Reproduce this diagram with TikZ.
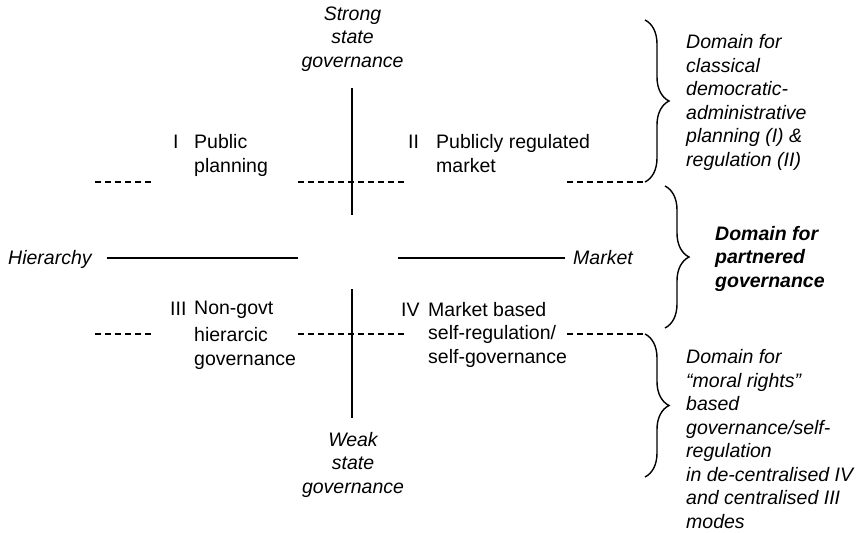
\documentclass[tikz,border=0pt]{standalone}
\usepackage{fontspec}
\setmainfont{Liberation Sans}
\usetikzlibrary{decorations.pathreplacing}
\begin{document}
\begin{tikzpicture}[x=1pt,y=1pt,
  lbl/.style={inner sep=0pt, text=black, font=\fontsize{19.5}{23.5}\selectfont},
  itl/.style={inner sep=0pt, text=black, font=\fontsize{19.5}{23.5}\selectfont\itshape},
  bitl/.style={inner sep=0pt, text=black, font=\fontsize{19.5}{23.5}\selectfont\bfseries\itshape},
  axisln/.style={line width=1.8pt, black},
  dashln/.style={line width=1.3pt, black, dash pattern=on 6pt off 4pt},
  bracecurl/.style={line width=1.4pt, black, decorate, decoration={brace, amplitude=24pt}}
]
\useasboundingbox (0,0) rectangle (863,-533);
% axes
\coordinate (hA) at (107,-258);
\coordinate (hB) at (298,-258);
\coordinate (hC) at (398,-258);
\coordinate (hD) at (565,-258);
\coordinate (vA) at (352,-88);
\coordinate (vB) at (352,-215);
\coordinate (vC) at (352,-289);
\coordinate (vD) at (352,-418);
\draw[axisln] (hA) -- (hB);
\draw[axisln] (hC) -- (hD);
\draw[axisln] (vA) -- (vB);
\draw[axisln] (vC) -- (vD);
% braces
\coordinate (b1s) at (645,-20);
\coordinate (b1e) at (645,-182);
\coordinate (b2s) at (665,-186);
\coordinate (b2e) at (665,-328);
\coordinate (b3s) at (645,-334);
\coordinate (b3e) at (645,-477);
\draw[bracecurl] (b1s) -- (b1e);
\draw[bracecurl] (b2s) -- (b2e);
\draw[bracecurl] (b3s) -- (b3e);
% dashed lines
\coordinate (u1) at (95,-182);
\coordinate (u2) at (153,-182);
\coordinate (u3) at (298,-182);
\coordinate (u4) at (405,-182);
\coordinate (u5) at (567,-182);
\coordinate (l1) at (95,-334);
\coordinate (l2) at (153,-334);
\coordinate (l3) at (298,-334);
\coordinate (l4) at (405,-334);
\coordinate (l5) at (567,-334);
\draw[dashln] (u1) -- (u2);
\draw[dashln] (u3) -- (u4);
\draw[dashln] (u5) -- (b1e);
\draw[dashln] (l1) -- (l2);
\draw[dashln] (l3) -- (l4);
\draw[dashln] (l5) -- (b3s);
% axis labels (multi-line nodes: base = last line)
\node[itl, anchor=base, align=center] (strong) at (352.5,-67) {Strong\\state\\governance};
\node[itl, anchor=base, align=center] (weak) at (353,-493) {Weak\\state\\governance};
\node[itl, anchor=base west] (hier) at (8,-264) {Hierarchy};
\node[itl, anchor=base west] (mkt) at (573,-264) {Market};
% quadrants
\node[lbl, anchor=base west] (n1) at (173,-148) {I};
\node[lbl, anchor=base west, align=left] (q1) at (194,-172) {Public\\planning};
\node[lbl, anchor=base west] (n2) at (408,-148) {II};
\node[lbl, anchor=base west, align=left] (q2) at (436,-172) {Publicly regulated\\market};
\node[lbl, anchor=base west] (n3) at (170,-315) {III};
\node[lbl, anchor=base west, align=left] (q3) at (194,-365) {Non-govt\\[3.5pt]hierarcic\\governance};
\node[lbl, anchor=base west] (n4) at (401,-316) {IV};
\node[lbl, anchor=base west, align=left] (q4) at (428,-363) {Market based\\self-regulation/\\self-governance};
% domains
\node[itl, anchor=base west, align=left] (d1) at (686,-166) {Domain for\\classical\\democratic-\\administrative\\planning (I) \&\\regulation (II)};
\node[bitl, anchor=base west, align=left] (d2) at (715,-287) {Domain for\\partnered\\governance};
\node[itl, anchor=base west, align=left] (d3) at (686,-528) {Domain for\\“moral rights”\\based\\governance/self-\\regulation\\in de-centralised IV\\and centralised III\\modes};
\end{tikzpicture}
\end{document}
